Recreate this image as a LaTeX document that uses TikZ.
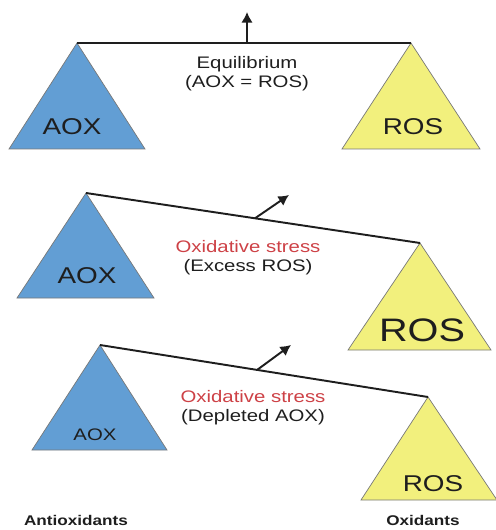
\documentclass[tikz,border=0pt]{standalone}
\usepackage{fontspec}
\newfontfamily\lbl[FakeStretch=1.22]{Liberation Sans}
\usetikzlibrary{calc, arrows.meta}
\definecolor{aoxblue}{RGB}{98,158,212}
\definecolor{rosyellow}{RGB}{242,240,125}
\definecolor{edgegray}{RGB}{120,120,120}
\definecolor{stressred}{RGB}{205,65,70}
\definecolor{inkgray}{RGB}{30,30,30}

\begin{document}
\begin{tikzpicture}[x=0.02cm, y=-0.02cm,
		aox/.style={fill=aoxblue, draw=edgegray, line width=0.4pt},
		ros/.style={fill=rosyellow, draw=edgegray, line width=0.4pt},
		beam/.style={line width=1.1pt, draw=inkgray},
		push/.style={-{Latex[length=6pt, width=6.5pt]}, line width=1.1pt, draw=inkgray},
		txt/.style={font=\lbl\fontsize{9.5}{10.8}\selectfont, align=center, text=inkgray},
		big/.style={font=\lbl\fontsize{13}{13}\selectfont, text=inkgray},
		foot/.style={font=\lbl\bfseries\fontsize{8}{8}\selectfont, text=inkgray}]
		\useasboundingbox (0,0) rectangle (496,530);
		
		%Apexes
		\coordinate (a1) at (77,43);
		\coordinate (r1) at (411,43);
		\coordinate (a2) at (86,193);
		\coordinate (r2) at (420,243);
		\coordinate (a3) at (100,345);
		\coordinate (r3) at (428,397);
		
		%Triangles
		\draw[aox] (a1) -- (145,149) -- (9,149) -- cycle;
		\draw[ros] (r1) -- (480,149) -- (342,149) -- cycle;
		\draw[aox] (a2) -- (154,298) -- (17,298) -- cycle;
		\draw[ros] (r2) -- (491,350) -- (348,350) -- cycle;
		\draw[aox] (a3) -- (167,450) -- (32,450) -- cycle;
		\draw[ros] (r3) -- (497,500) -- (361,500) -- cycle;
		
		%Beams
		\draw[beam] (a1) -- (r1);
		\draw[beam] (a2) -- (r2);
		\draw[beam] (a3) -- (r3);
		
		%Arrows
		\coordinate (m1) at ($(a1)!0.509!(r1)$);
		\coordinate (m2) at ($(a2)!0.506!(r2)$);
		\coordinate (m3) at ($(a3)!0.479!(r3)$);
		\coordinate (t1) at (247,12);
		\coordinate (t2) at (289,195);
		\coordinate (t3) at (291,345);
		\draw[push] (m1) -- (t1);
		\draw[push] (m2) -- (t2);
		\draw[push] (m3) -- (t3);
		
		%Labels
		\node[big] (aox1) at (72,127) {AOX};
		\node[big] (ros1) at (413,127) {ROS};
		\node[big] (aox2) at (87,276) {AOX};
		\node[big, font=\lbl\fontsize{18.5}{18.5}\selectfont] (ros2) at (422,330) {ROS};
		\node[big, font=\lbl\fontsize{9.5}{9.5}\selectfont] (aox3) at (95,435) {AOX};
		\node[big] (ros3) at (433,484) {ROS};
		
		\node[txt] (eq) at (247,74) {Equilibrium\\(AOX = ROS)};
		\node[txt] (ox2) at (248,258) {\textcolor{stressred}{Oxidative stress}\\(Excess ROS)};
		\node[txt] (ox3) at (253,408) {\textcolor{stressred}{Oxidative stress}\\(Depleted AOX)};
		
		\node[foot] (anti) at (76,520) {Antioxidants};
		\node[foot] (oxi) at (423,520) {Oxidants};
	\end{tikzpicture}
\end{document}
